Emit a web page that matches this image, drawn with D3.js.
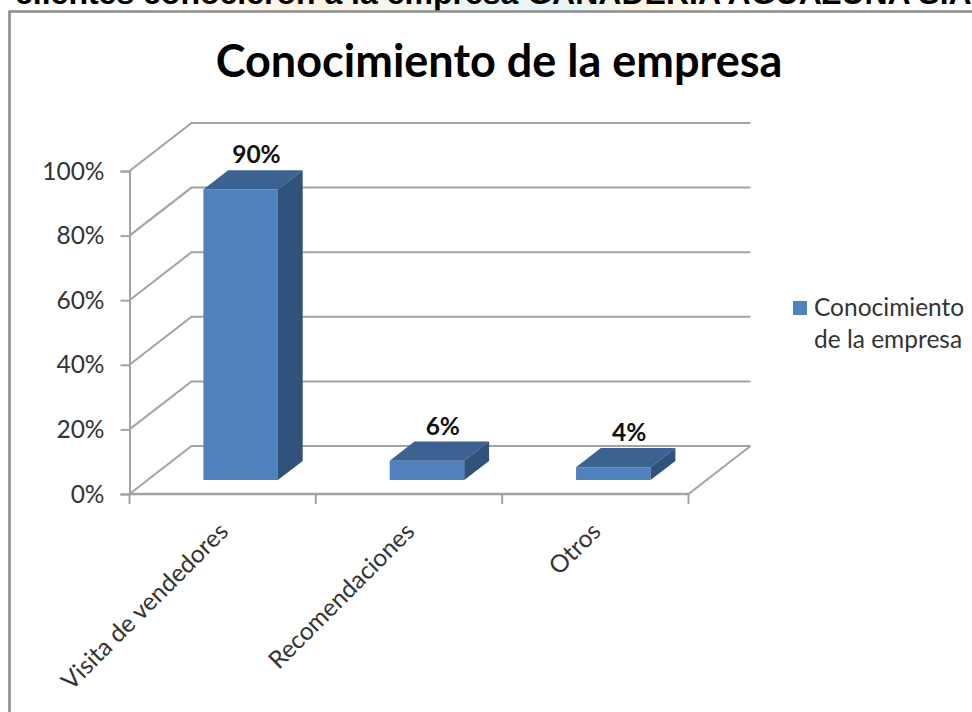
<!DOCTYPE html>
<html>
<head>
<meta charset="utf-8">
<style>
html,body{margin:0;padding:0;background:#fff;overflow:hidden}
svg{display:block}
</style>
<script src="https://cdn.jsdelivr.net/npm/d3@7"></script>
</head>
<body>
<svg id="chart" width="972" height="712"></svg>
<script>
const categories = ["Visita de vendedores", "Recomendaciones", "Otros"];
const values = [90, 6, 4];
const yTicks = [0, 20, 40, 60, 80, 100];
const seriesName = ["Conocimiento", "de la empresa"];
const chartTitle = "Conocimiento de la empresa";
const pageHeading = "clientes conocieron a la empresa GANADERIA AGUAZUNA S.A";

const svg = d3.select("#chart");
const labelFont = "Lato, 'Open Sans', sans-serif";
const labelSize = 24.5;

// Oblique projection: the floor runs back by this offset from the front plane.
const depth = {dx: 62, dy: -48};
const barNear = 0.29, barFar = 0.69;

const x = d3.scaleBand().domain(categories).range([129.5, 688.5]);
const y = d3.scaleLinear().domain([0, 100]).range([494, 171]);
const project = (px, py, t) => [px + depth.dx * t, py + depth.dy * t];

// Pastel band behind the cropped page heading
const defs = svg.append("defs");
const band = defs.append("linearGradient").attr("id", "headingBand");
[[0, "#ffffff"], [0.16, "#ffffff"], [0.3, "#fff3e6"], [0.42, "#f5f7ec"], [0.58, "#e6f4fb"],
 [0.66, "#fff7dc"], [0.76, "#ffffff"], [1, "#ffffff"]].forEach(([o, c]) =>
  band.append("stop").attr("offset", o).attr("stop-color", c));
svg.append("rect").attr("width", 972).attr("height", 10).attr("fill", "url(#headingBand)");

svg.append("text").attr("x", 15).attr("y", 3.5)
  .attr("font-family", "'Liberation Sans', Arial, sans-serif")
  .attr("font-weight", "700").attr("font-size", 32).attr("fill", "#000")
  .text(pageHeading);

// Chart frame, open on the right where the page is cut off
svg.append("path").attr("d", "M9.5,712V11.5H972")
  .attr("fill", "none").attr("stroke", "#8c8c8c").attr("stroke-width", 2.6);

svg.append("text").attr("x", 499).attr("y", 77).attr("text-anchor", "middle")
  .attr("font-family", labelFont).attr("font-weight", "700").attr("font-size", 45).attr("fill", "#000")
  .text(chartTitle);

const gridColor = "#a3a3a3";
const [x0, x1] = x.range();

// Side wall and back wall gridlines
const gridLine = d3.line();
svg.append("g").selectAll("path").data(yTicks).join("path")
  .attr("d", d => gridLine([[x0, y(d)], project(x0, y(d), 1), project(x1, y(d), 1)]))
  .attr("fill", "none").attr("stroke", gridColor).attr("stroke-width", 2);

// Right edge of the floor
svg.append("path")
  .attr("d", gridLine([[x1, y(0)], project(x1, y(0), 1)]))
  .attr("fill", "none").attr("stroke", gridColor).attr("stroke-width", 2);

// Value axis
const yAxis = svg.append("g").attr("transform", `translate(${x0},0)`)
  .call(d3.axisLeft(y).tickValues(yTicks).tickSize(9).tickPadding(16).tickFormat(d => d + "%"));
yAxis.select(".domain").attr("stroke", gridColor).attr("stroke-width", 2);
yAxis.selectAll(".tick line").attr("stroke", gridColor).attr("stroke-width", 2);
yAxis.selectAll(".tick text")
  .attr("font-family", labelFont).attr("font-size", labelSize).attr("fill", "#333")
  .attr("dy", "0.33em");

// Category axis with slanted labels
const xTicks = categories.map(c => x(c)).concat(x1);
svg.append("path").attr("d", gridLine([[x0, y(0)], [x1, y(0)]]))
  .attr("fill", "none").attr("stroke", gridColor).attr("stroke-width", 2.4);
svg.append("g").selectAll("line").data(xTicks).join("line")
  .attr("x1", d => d).attr("x2", d => d).attr("y1", y(0)).attr("y2", y(0) + 10)
  .attr("stroke", gridColor).attr("stroke-width", 2);

svg.append("g").selectAll("text").data(categories).join("text")
  .attr("text-anchor", "end")
  .attr("transform", d => `translate(${x(d) + x.bandwidth() / 2 + 7},${y(0) + 39}) rotate(-45)`)
  .attr("font-family", labelFont).attr("font-size", labelSize).attr("fill", "#333")
  .text(d => d);

// 3D columns: front, top and side faces
const barWidth = x.bandwidth() * 0.4;
const bars = svg.append("g").selectAll("g").data(categories.map((c, i) => ({c, v: values[i]}))).join("g");

const corners = d => {
  const left = x(d.c) + x.bandwidth() / 2 - barWidth / 2, right = left + barWidth;
  return {
    fbl: project(left, y(0), barNear), fbr: project(right, y(0), barNear),
    ftl: project(left, y(d.v), barNear), ftr: project(right, y(d.v), barNear),
    bbr: project(right, y(0), barFar), btl: project(left, y(d.v), barFar), btr: project(right, y(d.v), barFar)
  };
};
const poly = pts => d3.line()(pts) + "Z";
bars.append("path").attr("fill", "#4f81bd")
  .attr("d", d => { const k = corners(d); return poly([k.ftl, k.ftr, k.fbr, k.fbl]); });
bars.append("path").attr("fill", "#3b6291")
  .attr("d", d => { const k = corners(d); return poly([k.ftl, k.btl, k.btr, k.ftr]); });
bars.append("path").attr("fill", "#31527a")
  .attr("d", d => { const k = corners(d); return poly([k.ftr, k.btr, k.bbr, k.fbr]); });

// Value labels above each column
bars.append("text").attr("text-anchor", "middle")
  .attr("x", d => corners(d).btl[0] + barWidth / 2 - 9)
  .attr("y", d => corners(d).btl[1] - 7)
  .attr("font-family", labelFont).attr("font-weight", "700").attr("font-size", labelSize).attr("fill", "#111")
  .text(d => d.v + "%");

// Legend
svg.append("rect").attr("x", 793).attr("y", 301).attr("width", 14).attr("height", 14).attr("fill", "#4f81bd");
svg.append("g").selectAll("text").data(seriesName).join("text")
  .attr("x", 814).attr("y", (d, i) => 316 + i * 32)
  .attr("font-family", labelFont).attr("font-size", labelSize).attr("fill", "#333")
  .text(d => d);
</script>
</body>
</html>
